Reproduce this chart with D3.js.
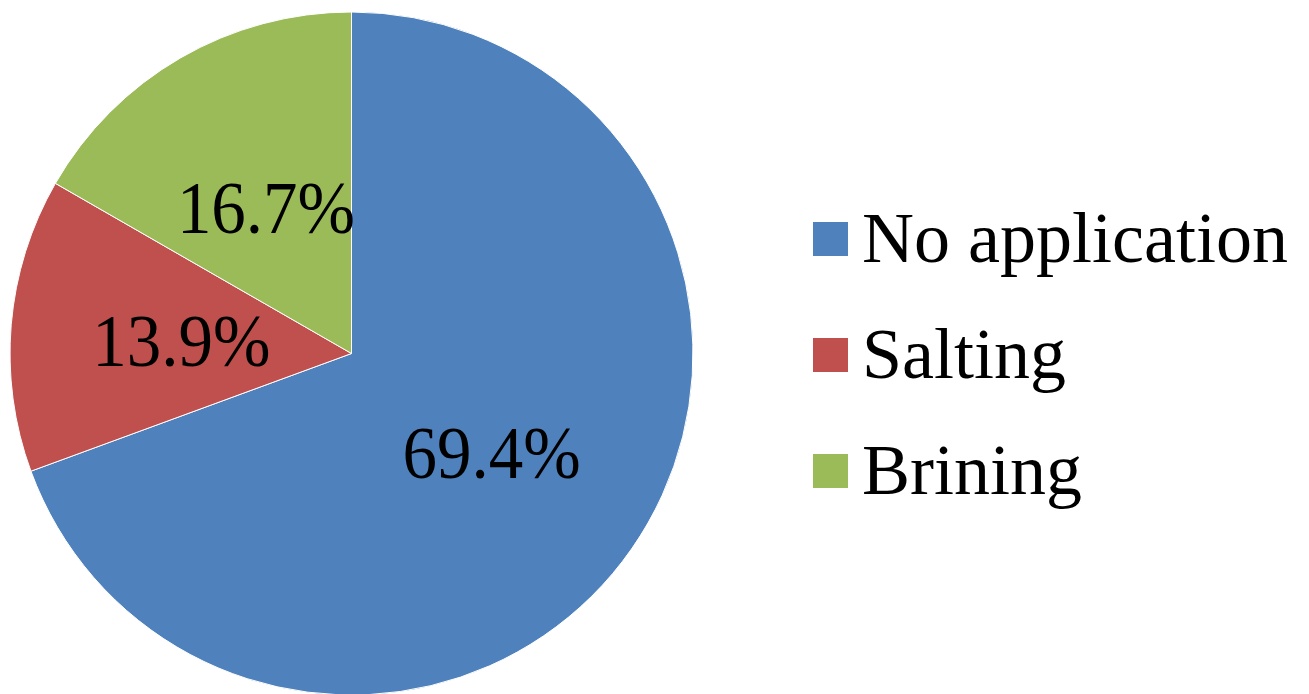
<!DOCTYPE html>
<html><head><meta charset="utf-8">
<script src="https://cdn.jsdelivr.net/npm/d3@7"></script>
<style>body{margin:0;background:#fff;}svg{display:block;}</style>
</head><body>
<svg id="chart" width="1309" height="694"></svg>
<script>
const categories = ["No application", "Salting", "Brining"];
const values = [69.4, 13.9, 16.7];
const labels = ["69.4%", "13.9%", "16.7%"];
const colors = ["#4F81BD", "#C0504D", "#9BBB59"];

const svg = d3.select("#chart");
const cx = 351.5, cy = 353.5, R = 341.5;
const g = svg.append("g").attr("transform", `translate(${cx},${cy})`);
const pie = d3.pie().sort(null).value(d => d)(values);
const arc = d3.arc().innerRadius(0).outerRadius(R);
const labelArc = d3.arc().innerRadius(R * 0.5).outerRadius(R * 0.5);

g.selectAll("path").data(pie).join("path")
  .attr("d", arc)
  .attr("fill", (d, i) => colors[i])
  .attr("stroke", "#fff").attr("stroke-width", 1);

g.selectAll("text").data(pie).join("text")
  .attr("transform", d => { const c = labelArc.centroid(d); return `translate(${c[0]},${c[1] + 27})scale(1,1.07)`; })
  .attr("text-anchor", "middle")
  .attr("font-family", "'Liberation Serif', 'Times New Roman', serif")
  .attr("font-size", 69)
  .attr("fill", "#000")
  .text((d, i) => labels[i]);

const legend = svg.append("g").attr("transform", "translate(813,222)");
const y = d3.scalePoint().domain(categories).range([0, 232]);
const items = legend.selectAll("g").data(categories).join("g")
  .attr("transform", d => `translate(0,${y(d)})`);
items.append("rect").attr("width", 35).attr("height", 34)
  .attr("fill", (d, i) => colors[i]);
items.append("text").attr("x", 49).attr("y", 40)
  .attr("font-family", "'Liberation Serif', 'Times New Roman', serif")
  .attr("font-size", 72).attr("fill", "#000")
  .text(d => d);
</script>
</body></html>
